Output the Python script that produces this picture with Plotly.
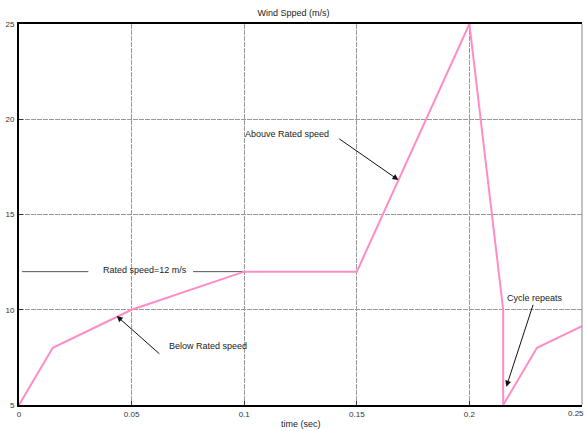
import plotly.graph_objects as go

# Data
time_s = [0, 0.015, 0.05, 0.1, 0.15, 0.2, 0.215, 0.215, 0.23, 0.25]
wind_speed = [5, 8, 10, 12, 12, 25, 10, 5, 8, 9.14]

rated_line1_x = [0.0013, 0.0308]
rated_line2_x = [0.0773, 0.1]
rated_y = [12, 12]

x_ticks = [0, 0.05, 0.1, 0.15, 0.2, 0.25]
x_tick_labels = ["0", "0.05", "0.1", "0.15", "0.2", "0.25"]
y_ticks = [5, 10, 15, 20, 25]

FONT = "Liberation Sans, Arial, sans-serif"

fig = go.Figure()
fig.add_trace(go.Scatter(x=rated_line1_x, y=rated_y, mode="lines",
                         line=dict(color="#555555", width=1), hoverinfo="skip"))
fig.add_trace(go.Scatter(x=rated_line2_x, y=rated_y, mode="lines",
                         line=dict(color="#555555", width=1), hoverinfo="skip"))
fig.add_trace(go.Scatter(x=time_s, y=wind_speed, mode="lines",
                         line=dict(color="#FF8CC6", width=2)))

ann_font = dict(family=FONT, size=9, color="#222222")
annotations = [
    dict(x=0.1685, y=16.81, ax=0.1415, ay=19.03, axref="x", ayref="y", xref="x", yref="y",
         text="", showarrow=True, arrowhead=2, arrowsize=1.2, arrowwidth=1, arrowcolor="#111111"),
    dict(x=0.0434, y=9.67, ax=0.0630, ay=7.62, axref="x", ayref="y", xref="x", yref="y",
         text="", showarrow=True, arrowhead=2, arrowsize=1.2, arrowwidth=1, arrowcolor="#111111"),
    dict(x=0.2164, y=5.96, ax=0.2285, ay=10.34, axref="x", ayref="y", xref="x", yref="y",
         text="", showarrow=True, arrowhead=2, arrowsize=1.2, arrowwidth=1, arrowcolor="#111111"),
    dict(x=0.0996, y=19.23, xref="x", yref="y", text="Abouve Rated speed", showarrow=False,
         xanchor="left", yanchor="middle", font=ann_font),
    dict(x=0.0362, y=12.08, xref="x", yref="y", text="Rated speed=12 m/s", showarrow=False,
         xanchor="left", yanchor="middle", font=ann_font),
    dict(x=0.0655, y=8.10, xref="x", yref="y", text="Below Rated speed", showarrow=False,
         xanchor="left", yanchor="middle", font=ann_font),
    dict(x=0.2160, y=10.63, xref="x", yref="y", text="Cycle repeats", showarrow=False,
         xanchor="left", yanchor="middle", font=ann_font),
    dict(x=0.5, y=-0.032, xref="paper", yref="paper", text="time (sec)", showarrow=False,
         xanchor="center", yanchor="top", font=dict(family=FONT, size=9, color="#222222")),
    dict(x=x_ticks[-1], y=y_ticks[0], xref="x", yref="y", text=x_tick_labels[-1], showarrow=False,
         xanchor="right", yanchor="top", yshift=-2, xshift=4,
         font=dict(family=FONT, size=8, color="#333333")),
]

fig.update_layout(
    width=587, height=431,
    margin=dict(l=17, r=5, t=24, b=26),
    paper_bgcolor="white", plot_bgcolor="white",
    showlegend=False,
    title=dict(text="Wind Spped (m/s)", x=0.5, xanchor="center", y=1 - 13 / 431, yanchor="middle",
               font=dict(family=FONT, size=9, color="#222222")),
    annotations=annotations,
    font=dict(family=FONT, size=8, color="#333333"),
)
fig.update_xaxes(
    range=[0, 0.25], tickvals=x_ticks, ticktext=x_tick_labels,
    showline=True, linecolor="black", linewidth=2, mirror=True,
    showgrid=True, gridcolor="#999999", gridwidth=1, griddash="5px,1px",
    ticks="inside", ticklen=4, tickcolor="#333333", zeroline=False,
    tickfont=dict(family=FONT, size=8, color="#333333"),
)
fig.update_yaxes(
    range=[5, 25], tickvals=y_ticks,
    showline=True, linecolor="black", linewidth=2, mirror=False,
    showgrid=True, gridcolor="#999999", gridwidth=1, griddash="5px,1px",
    ticks="inside", ticklen=4, tickcolor="#333333", zeroline=False,
    ticklabelstandoff=1,
    tickfont=dict(family=FONT, size=8, color="#333333"),
)
fig.add_shape(type="line", xref="paper", yref="paper", x0=1, x1=1, y0=0, y1=1,
              line=dict(color="#888888", width=1))

fig.write_html("out.html")
